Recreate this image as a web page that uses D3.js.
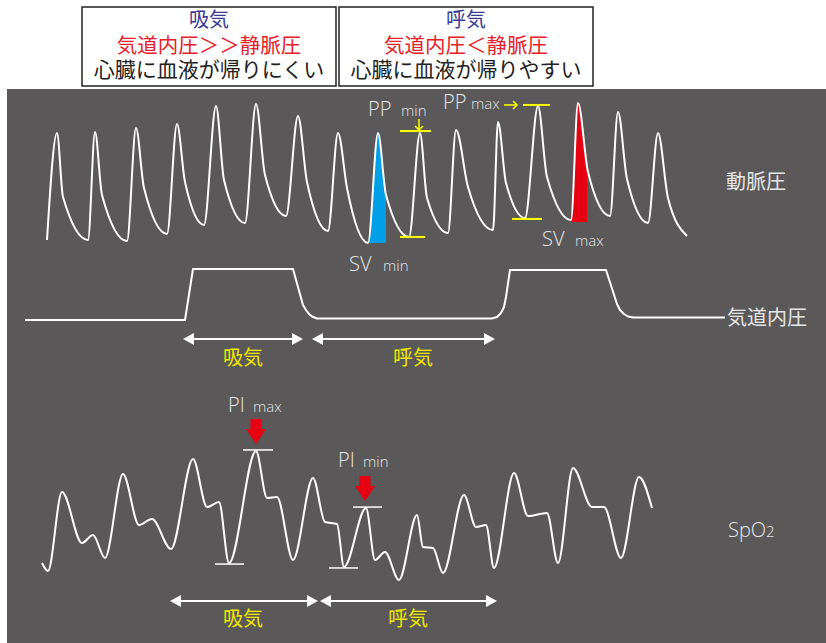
<!DOCTYPE html>
<html><head><meta charset="utf-8">
<script src="https://cdn.jsdelivr.net/npm/d3@7"></script>
<style>body{margin:0;background:#fff;} svg{display:block}</style>
</head><body><svg id="c" width="826" height="643"></svg>
<script>
// ---------- data ----------
// arterial pressure (time ms, mmHg)
const abpTime  = [220,320,380,630,700,770,1020,1110,1190,1420,1520,1600,1790,1910,1990,2200,2310,2400,2610,2730,2820,3030,3130,3220,3430,3530,3610,3840,3950,4020,4230,4310,4430,4680,4730,4810,5000,5130,5220,5460,5530,5630,5850,5930,6020,6230,6330,6430,6620];
const abpValue = [56.7,128,85.3,56.7,128.7,86.7,56,131.3,91.3,60.7,134,95.3,66.7,146,96.7,68,147.3,100,72.7,139.3,95.3,62.7,128,91.3,54.7,128,86.7,58.7,128,84.7,61.3,130,92,63.3,135.3,94.7,71.3,146,98.7,70,148,102,72.7,142,97.3,68,128,84.7,59.3];
// airway pressure (time ms, cmH2O)
const airTime  = [0,1600,1680,2680,2780,2810,2840,2870,2920,4670,4720,4760,4790,4810,4850,5810,5920,5950,5990,6030,6080,7000];
const airValue = [0,0,20.4,20.4,6,4,2.4,1.4,0.6,0.6,1.2,2.8,5.2,9.2,20,20,6.4,4,2.4,1.4,1,1];
// pleth (time ms, % amplitude)
const plethTime  = [170,230,370,570,680,800,980,1140,1270,1460,1680,1820,1940,2040,2310,2420,2520,2680,2880,3000,3120,3190,3410,3500,3600,3740,3920,3980,4080,4180,4390,4510,4610,4690,4890,5030,5220,5330,5480,5670,5790,5960,6140,6270];
const plethValue = [12.1,6.4,62.9,26.4,32.1,15.7,75.7,39.3,43.6,22.1,86.4,52.1,55.7,12.1,92.1,58.6,59.3,14.3,72.9,41.4,40,9.3,51.4,14.3,20,0,46.4,23.6,22.9,5,60.7,37.9,39.3,8.6,76.4,45.7,47.9,12.1,80,52.1,52.1,15.7,73.6,51.4];
// stroke-volume fills [t0, t1, base]
const svMinFill = [3430, 3610, 54.7];
const svMaxFill = [5460, 5620, 68.7];
// PP marker lines [t0, t1, value]
const ppMarks = [[3750,4060,129.3],[3750,4000,58.7],[4980,5250,146.7],[4870,5170,70.7]];
// PI marker lines [t0, t1, value]
const piMarks = [[2180,2480,92.9],[1900,2190,11.4],[3280,3570,52.1],[3040,3330,8.6]];
const piArrowTips = [[2310,97.1],[3400,56.4]];
// phase spans
const phaseNames = ["吸気","呼気"];
const airPhase = [[1580,2780],[2870,4700]];
const plethPhase = [[1450,2930],[2950,4720]];
const trackNames = ["動脈圧","気道内圧","SpO"];
const boxTitles = ["吸気","呼気"];
const boxPressure = ["気道内圧＞＞静脈圧","気道内圧＜静脈圧"];
const boxReturn = ["心臓に血液が帰りにくい","心臓に血液が帰りやすい"];

// ---------- scales ----------
const x = d3.scaleLinear().domain([0,8000]).range([25,825]);
const yAbp = d3.scaleLinear().domain([50,150]).range([250,100]);
const yAir = d3.scaleLinear().domain([0,20]).range([320,270]);
const yPl = d3.scaleLinear().domain([0,100]).range([580,440]);

const svg = d3.select("#c");
const CJK = "'Noto Sans CJK JP','Noto Sans',sans-serif";
const LAT = "'Open Sans','Noto Sans',sans-serif";
const TXT = "#e6e6e6", YEL = "#ffff00", LYEL = "#eee600";

// top boxes
const boxX = [82, 339], boxW = 254;
boxX.forEach((bx,i)=>{
  svg.append("rect").attr("x",bx).attr("y",7).attr("width",boxW).attr("height",79)
    .attr("fill","#fff").attr("stroke","#222").attr("stroke-width",1.5);
  const cx = bx + boxW/2;
  const t = svg.append("text").attr("text-anchor","middle").attr("font-family",CJK);
  t.append("tspan").attr("x",cx).attr("y",27).attr("font-size",20).attr("fill","#3a3a96").text(boxTitles[i]);
  t.append("tspan").attr("x",cx).attr("y",53).attr("font-size",20.5).attr("fill","#e8202a").text(boxPressure[i]);
  t.append("tspan").attr("x",cx).attr("y",77).attr("font-size",21).attr("fill","#222").text(boxReturn[i]);
});

// panel
svg.append("rect").attr("x",7).attr("y",89).attr("width",819).attr("height",554).attr("fill","#5a5859");

// ABP
const abp = abpTime.map((t,i)=>[t,abpValue[i]]);
const defs = svg.append("defs");
function fillSV(spec, color, id){
  defs.append("clipPath").attr("id",id).append("rect")
    .attr("x",x(spec[0])).attr("y",0).attr("width",x(spec[1])-x(spec[0])).attr("height",643);
  svg.append("path").datum(abp).attr("clip-path",`url(#${id})`)
    .attr("fill",color)
    .attr("d",d3.area().x(d=>x(d[0])).y0(yAbp(spec[2])).y1(d=>yAbp(d[1])).curve(d3.curveMonotoneX));
}
fillSV(svMinFill,"#00a0e9","c1");
fillSV(svMaxFill,"#e60012","c2");
svg.append("path").datum(abp).attr("fill","none").attr("stroke","#fff").attr("stroke-width",2)
  .attr("stroke-linejoin","round")
  .attr("d",d3.line().x(d=>x(d[0])).y(d=>yAbp(d[1])).curve(d3.curveMonotoneX));

// PP marks
ppMarks.forEach(m=>{
  svg.append("line").attr("x1",x(m[0])).attr("x2",x(m[1])).attr("y1",yAbp(m[2])).attr("y2",yAbp(m[2]))
    .attr("stroke",YEL).attr("stroke-width",2);
});
// small yellow arrow down (PP min)
{
  const ax = x(3940), y0 = yAbp(137.3), y1 = yAbp(130);
  svg.append("line").attr("x1",ax).attr("x2",ax).attr("y1",y0).attr("y2",y1).attr("stroke",YEL).attr("stroke-width",1.5);
  svg.append("path").attr("d",`M${ax-4},${y1-4}L${ax},${y1}L${ax+4},${y1-4}`).attr("fill","none").attr("stroke",YEL).attr("stroke-width",1.5);
}
// yellow arrow right (PP max)
{
  const x0 = x(4790), x1 = x(4920), ay = yAbp(146.7);
  svg.append("line").attr("x1",x0).attr("x2",x1).attr("y1",ay).attr("y2",ay).attr("stroke",YEL).attr("stroke-width",1.5);
  svg.append("path").attr("d",`M${x1-4},${ay-4}L${x1},${ay}L${x1-4},${ay+4}`).attr("fill","none").attr("stroke",YEL).attr("stroke-width",1.5);
}

// labels with small suffix
function subLabel(xa, ya, big, small, xb){
  svg.append("text").attr("x",xa).attr("y",ya).attr("font-family",LAT).attr("font-weight",300).attr("font-size",20).attr("fill",TXT).text(big);
  svg.append("text").attr("x",xb).attr("y",ya).attr("font-family",LAT).attr("font-weight",300).attr("font-size",15).attr("fill",TXT).text(small);
}
subLabel(368,116,"PP","min",401);
subLabel(443,109,"PP","max",471);
subLabel(349,271,"SV","min",383);
subLabel(542,246,"SV","max",575);
subLabel(228,412,"PI","max",253);
subLabel(338,467,"PI","min",363);

// airway
const air = airTime.map((t,i)=>[t,airValue[i]]);
svg.append("path").datum(air).attr("fill","none").attr("stroke","#fff").attr("stroke-width",2)
  .attr("stroke-linejoin","round")
  .attr("d",d3.line().x(d=>x(d[0])).y(d=>yAir(d[1])));

// double arrows
function dblArrow(x0,x1,yy){
  svg.append("line").attr("x1",x0+8).attr("x2",x1-8).attr("y1",yy).attr("y2",yy).attr("stroke","#fff").attr("stroke-width",1.8);
  svg.append("path").attr("d",`M${x0},${yy}L${x0+11},${yy-6}L${x0+11},${yy+6}Z`).attr("fill","#fff");
  svg.append("path").attr("d",`M${x1},${yy}L${x1-11},${yy-6}L${x1-11},${yy+6}Z`).attr("fill","#fff");
}
airPhase.forEach(p=>dblArrow(x(p[0]),x(p[1]),339));
plethPhase.forEach(p=>dblArrow(x(p[0]),x(p[1]),601));
const airLabelX = [243,413], plLabelX = [243,408];
phaseNames.forEach((n,i)=>{
  svg.append("text").attr("x",airLabelX[i]).attr("y",365).attr("text-anchor","middle")
    .attr("font-family",CJK).attr("font-size",20).attr("fill",LYEL).text(n);
  svg.append("text").attr("x",plLabelX[i]).attr("y",626).attr("text-anchor","middle")
    .attr("font-family",CJK).attr("font-size",20).attr("fill",LYEL).text(n);
});

// pleth
const pl = plethTime.map((t,i)=>[t,plethValue[i]]);
svg.append("path").datum(pl).attr("fill","none").attr("stroke","#fff").attr("stroke-width",2)
  .attr("stroke-linejoin","round")
  .attr("d",d3.line().x(d=>x(d[0])).y(d=>yPl(d[1])).curve(d3.curveMonotoneX));
piMarks.forEach(m=>{
  svg.append("line").attr("x1",x(m[0])).attr("x2",x(m[1])).attr("y1",yPl(m[2])).attr("y2",yPl(m[2]))
    .attr("stroke","#fff").attr("stroke-width",1.5);
});
piArrowTips.forEach(a=>{
  const tx = x(a[0]), ty = yPl(a[1]);
  svg.append("path").attr("fill","#e60012")
    .attr("d",`M${tx},${ty}L${tx-10},${ty-15}L${tx-5.5},${ty-15}L${tx-5.5},${ty-25}L${tx+5.5},${ty-25}L${tx+5.5},${ty-15}L${tx+10},${ty-15}Z`);
});

// track names
svg.append("text").attr("x",726).attr("y",189).attr("font-family",CJK).attr("font-size",20).attr("fill",TXT).text(trackNames[0]);
svg.append("text").attr("x",727).attr("y",325).attr("font-family",CJK).attr("font-size",20).attr("fill",TXT).text(trackNames[1]);
const sp = svg.append("text").attr("x",728).attr("y",537).attr("font-family",LAT).attr("font-weight",300).attr("font-size",20).attr("fill",TXT);
sp.append("tspan").text(trackNames[2]);
sp.append("tspan").attr("font-size",15).text("2");
</script></body></html>
